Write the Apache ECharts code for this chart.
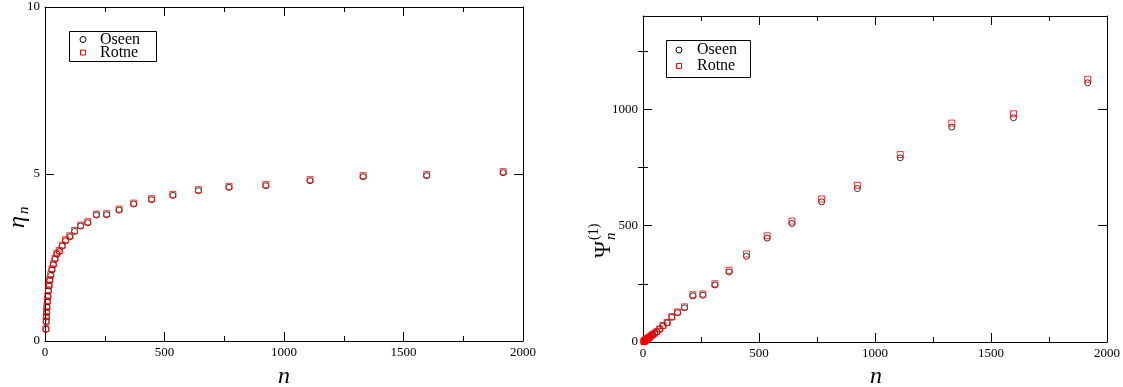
<!DOCTYPE html>
<html><head><meta charset="utf-8">
<script src="https://cdn.jsdelivr.net/npm/echarts@6/dist/echarts.min.js"></script>
<style>html,body{margin:0;padding:0;background:#fff}#c{width:1123px;height:387px}</style>
</head><body><div id="c"></div>
<script>
// ---- data ----
const nValues  = [4,5,6,7,8,10,12,14,17,20,24,29,35,42,50,60,72,86,104,124,149,179,215,258,310,371,446,535,642,770,924,1109,1331,1597,1917];
const etaOseen = [0.35,0.58,0.72,0.85,1.01,1.17,1.33,1.50,1.65,1.81,1.96,2.13,2.28,2.45,2.60,2.68,2.84,3.00,3.12,3.28,3.44,3.54,3.77,3.78,3.92,4.10,4.23,4.36,4.50,4.60,4.65,4.80,4.92,4.95,5.04];
const etaRotne = [0.37,0.60,0.74,0.88,1.03,1.20,1.36,1.53,1.68,1.84,1.99,2.16,2.31,2.48,2.63,2.71,2.87,3.03,3.15,3.31,3.47,3.57,3.80,3.81,3.95,4.13,4.26,4.39,4.53,4.63,4.68,4.83,4.95,4.98,5.07];
const psiOseen = [2,3,4,4.5,5.5,7,8.5,10,12,14.5,17.5,21,26,31,37,44,55,69,82,106,126,147,198,201,245,301,368,446,509,602,659,791,923,963,1113];
const psiRotne = [2.5,3.5,4.5,5,6,7.5,9,11,13,15.5,18.5,22,27,32,38,45,56,71,84,109,129,151,203,206,250,308,378,456,519,614,673,805,940,980,1128];
const xTickValues = [0,500,1000,1500,2000];
const etaTickValues = [0,5,10];
const psiMajorTicks = [0,500,1000];
const psiMinorTicks = [250,750,1250];
const seriesNames = ['Oseen','Rotne'];

const FONT = "'Liberation Serif','DejaVu Serif',serif";
const chart = echarts.init(document.getElementById('c'), null, {renderer:'canvas'});

const line = {show:true, onZero:false, lineStyle:{color:'#000', width:1}};
const labelStyle = {color:'#000', fontFamily:FONT, fontSize:13, formatter:function(v){return String(v);}};

function xAx(grid, pos, showLabel){
  return {
    type:'value', gridIndex:grid, position:pos, min:0, max:2000, interval:500,
    axisLine:line, splitLine:{show:false},
    axisTick:{show:true, inside:true, length:9, lineStyle:{color:'#000', width:1}},
    minorTick:{show:true, splitNumber:2, length:5, lineStyle:{color:'#000', width:1}},
    axisLabel: showLabel ? Object.assign({show:true, margin:5, customValues:xTickValues}, labelStyle) : {show:false}
  };
}
function yEta(pos, showLabel){
  return {
    type:'value', gridIndex:0, position:pos, min:0, max:10, interval:5,
    axisLine:line, splitLine:{show:false},
    axisTick:{show:true, inside:true, length:9, lineStyle:{color:'#000', width:1}},
    axisLabel: showLabel ? Object.assign({show:true, margin:5, customValues:etaTickValues}, labelStyle) : {show:false}
  };
}
function yPsi(pos, ticks, len, showLabel, showLine){
  return {
    type:'value', gridIndex:1, position:pos, min:0, max:1400, interval:250,
    axisLine: showLine ? line : {show:false}, splitLine:{show:false},
    axisTick:{show:true, inside:true, length:len, customValues:ticks, lineStyle:{color:'#000', width:1}},
    axisLabel: showLabel ? Object.assign({show:true, margin:5, customValues:ticks}, labelStyle) : {show:false}
  };
}

function mk(arrX, arrY){ return arrX.map((x,i)=>[x, arrY[i]]); }

const oseenStyle = {color:'transparent', borderColor:'#000', borderWidth:1};
const rotneStyle = {color:'transparent', borderColor:'#ff0000', borderWidth:1};

function legendGroup(bx, by, bw, bh, symX, y1, y2, textX){
  return {
    type:'group', silent:true,
    children:[
      {type:'rect', shape:{x:bx+0.5, y:by+0.5, width:bw, height:bh}, style:{fill:'#fff', stroke:'#000', lineWidth:1}},
      {type:'circle', shape:{cx:symX, cy:y1, r:3}, style:{fill:'none', stroke:'#000', lineWidth:1}},
      {type:'rect', shape:{x:symX-2.5, y:y2-2.5, width:5, height:5}, style:{fill:'none', stroke:'#ff0000', lineWidth:1}},
      {type:'text', x:textX, y:y1, style:{text:seriesNames[0], fill:'#000', font:'16px '+FONT, textVerticalAlign:'middle', textAlign:'left'}},
      {type:'text', x:textX, y:y2, style:{text:seriesNames[1], fill:'#000', font:'16px '+FONT, textVerticalAlign:'middle', textAlign:'left'}}
    ]
  };
}

const option = {
  backgroundColor:'#fff',
  animation:false,
  grid:[
    {left:45, top:7, width:478, height:334, containLabel:false},
    {left:643, top:16, width:464, height:326, containLabel:false}
  ],
  xAxis:[ xAx(0,'bottom',true), xAx(0,'top',false), xAx(1,'bottom',true), xAx(1,'top',false) ],
  yAxis:[
    yEta('left', true), yEta('right', false),
    yPsi('left', psiMajorTicks, 9, true, true),
    yPsi('left', psiMinorTicks, 5, false, false),
    yPsi('right', psiMajorTicks, 9, false, true),
    yPsi('right', psiMinorTicks, 5, false, false)
  ],
  series:[
    {name:seriesNames[0], type:'scatter', xAxisIndex:0, yAxisIndex:0, symbol:'circle', symbolSize:6, itemStyle:oseenStyle, data:mk(nValues, etaOseen), emphasis:{disabled:true}},
    {name:seriesNames[1], type:'scatter', xAxisIndex:0, yAxisIndex:0, symbol:'rect', symbolSize:6, itemStyle:rotneStyle, data:mk(nValues, etaRotne), emphasis:{disabled:true}},
    {name:seriesNames[0], type:'scatter', xAxisIndex:2, yAxisIndex:2, symbol:'circle', symbolSize:6, itemStyle:oseenStyle, data:mk(nValues, psiOseen), emphasis:{disabled:true}},
    {name:seriesNames[1], type:'scatter', xAxisIndex:2, yAxisIndex:2, symbol:'rect', symbolSize:6, itemStyle:rotneStyle, data:mk(nValues, psiRotne), emphasis:{disabled:true}}
  ],
  graphic:[
    legendGroup(69, 31, 87, 30, 83, 39.5, 52.5, 100),
    legendGroup(666, 40, 84, 37, 679, 50, 66, 697),
    // x-axis names
    {type:'text', x:284, y:377, style:{text:'n', fill:'#000', font:'italic 24px '+FONT, textAlign:'center', textVerticalAlign:'middle'}},
    {type:'text', x:876, y:377, style:{text:'n', fill:'#000', font:'italic 24px '+FONT, textAlign:'center', textVerticalAlign:'middle'}},
    // y-axis name left: eta_n
    {type:'group', x:18, y:214, rotation:Math.PI/2, children:[
      {type:'text', x:-14, y:0, style:{text:'η', fill:'#000', font:'italic 24px '+FONT, textAlign:'left', textVerticalAlign:'middle'}},
      {type:'text', x:0, y:6, style:{text:'n', fill:'#000', font:'italic 15px '+FONT, textAlign:'left', textVerticalAlign:'middle'}}
    ]},
    // y-axis name right: Psi_n^(1)
    {type:'group', x:603, y:236, rotation:Math.PI/2, children:[
      {type:'text', x:-22, y:1, style:{text:'Ψ', fill:'#000', font:'23px '+FONT, textAlign:'left', textVerticalAlign:'middle'}},
      {type:'text', x:-4, y:8, style:{text:'n', fill:'#000', font:'italic 15px '+FONT, textAlign:'left', textVerticalAlign:'middle'}},
      {type:'text', x:-4, y:-9, style:{text:'(1)', fill:'#000', font:'14px '+FONT, textAlign:'left', textVerticalAlign:'middle'}}
    ]}
  ]
};
chart.setOption(option);
</script>
</body></html>
